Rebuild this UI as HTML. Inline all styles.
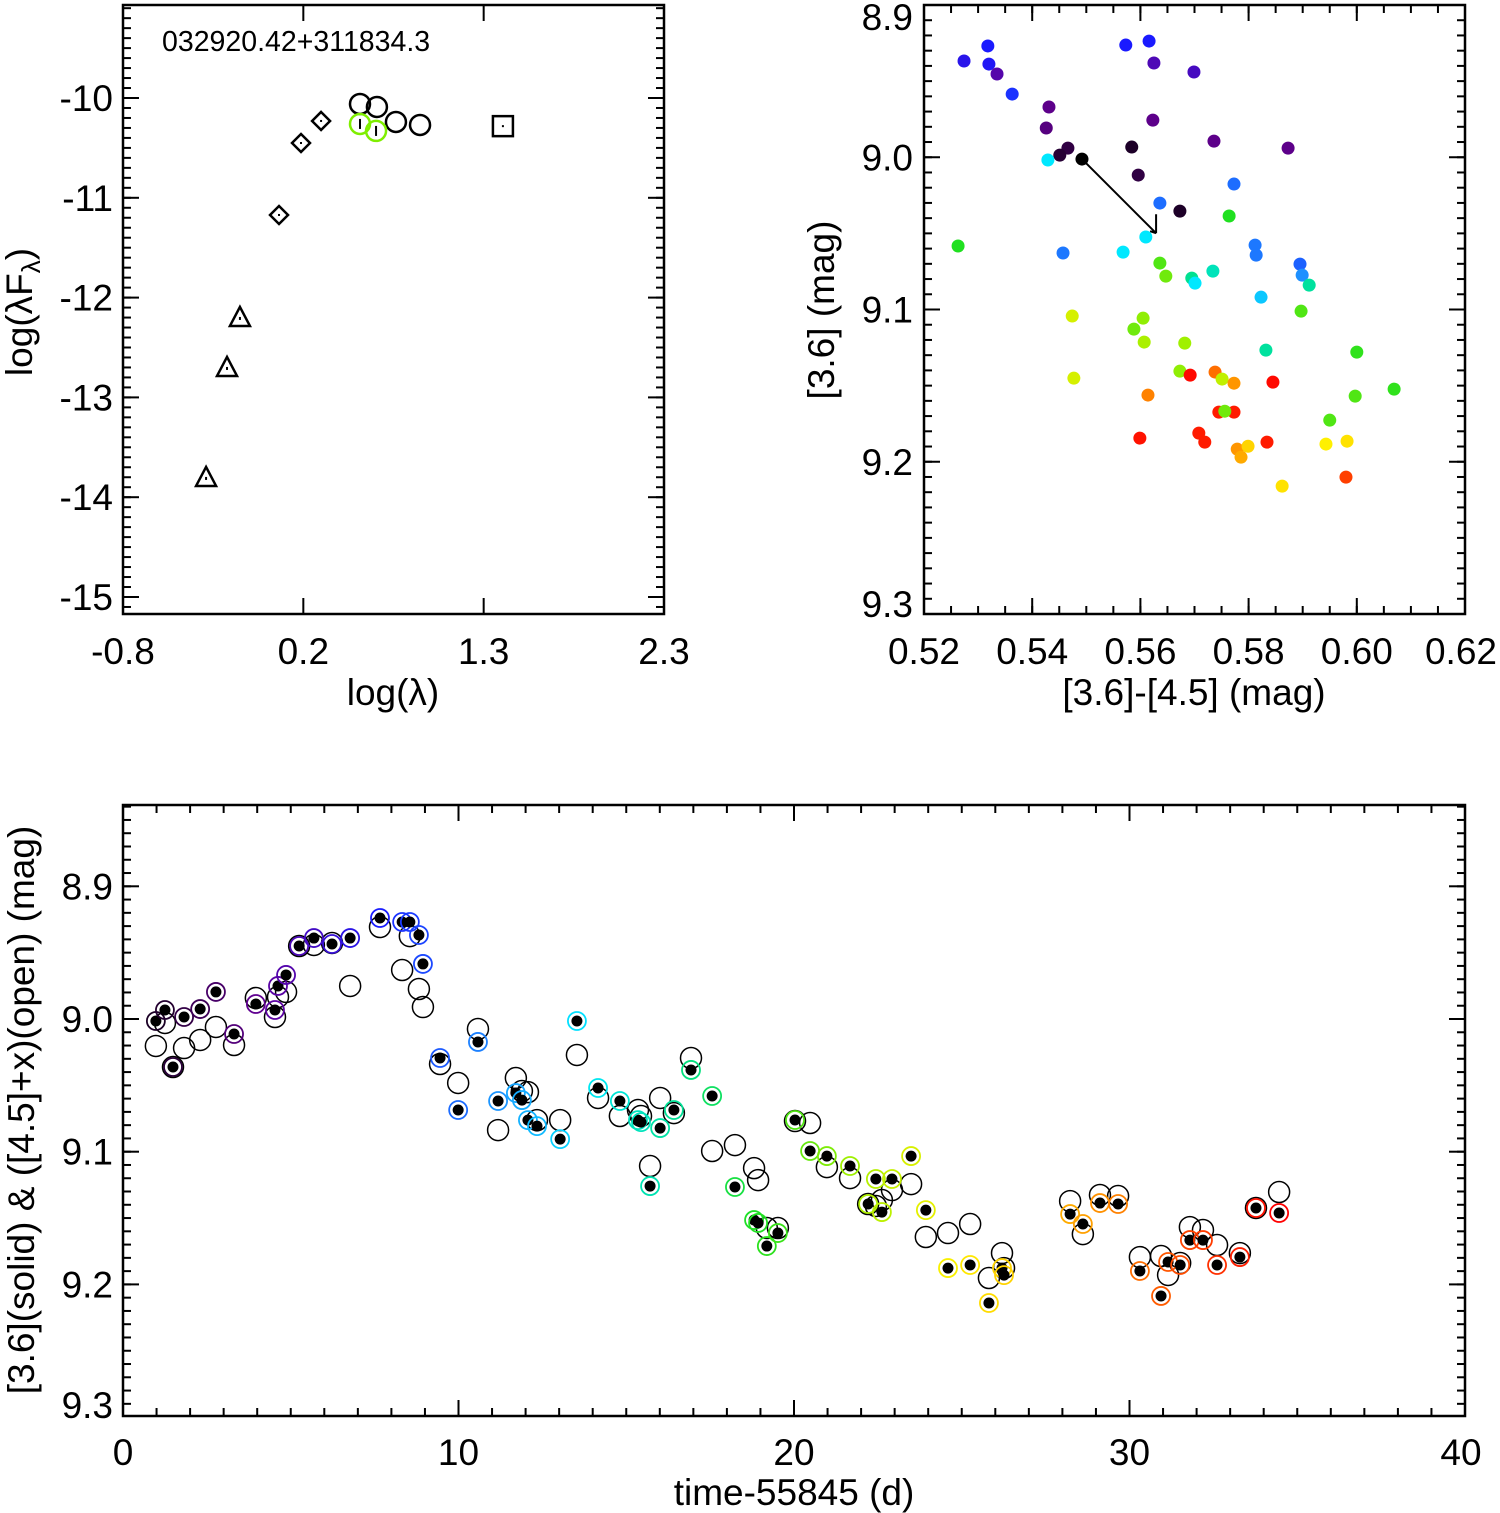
<!DOCTYPE html>
<html><head><meta charset="utf-8">
<style>
html,body{margin:0;padding:0;background:#fff;}
svg{display:block;font-family:"Liberation Sans",Arial,sans-serif;}
</style></head>
<body>
<svg id="fig" width="1500" height="1513" viewBox="0 0 1500 1513" xmlns="http://www.w3.org/2000/svg"></svg>
<script>
// ---------- Panel 1: SED ----------
const sedTriX = [-0.324, -0.204, -0.130];
const sedTriY = [-13.807, -12.705, -12.204];
const sedDiaX = [0.094, 0.220, 0.335];
const sedDiaY = [-11.172, -10.451, -10.230];
const sedCircX = [0.558, 0.655, 0.764, 0.902];
const sedCircY = [-10.060, -10.090, -10.240, -10.270];
const sedGreenX = [0.558, 0.650];
const sedGreenY = [-10.260, -10.330];
const sedSqX = [1.377];
const sedSqY = [-10.282];
const sedXTicks = [-0.8, 0.2333, 1.2667, 2.3];
const sedXLabels = ["-0.8", "0.2", "1.3", "2.3"];
const sedYTicks = [-10, -11, -12, -13, -14, -15];
const sedYLabels = ["-10", "-11", "-12", "-13", "-14", "-15"];

// ---------- Panel 2: colour-magnitude ----------
const cmdColor = [0.5274,0.5318,0.5320,0.5335,0.5363,0.5573,0.5616,0.5625,0.5699,0.5431,0.5426,0.5623,0.5736,0.5873,0.5466,0.5451,0.5584,0.5492,0.5596,0.5673,0.5429,0.5263,0.5636,0.5773,0.5610,0.5457,0.5568,0.5636,0.5647,0.5695,0.5701,0.5734,0.5764,0.5812,0.5814,0.5895,0.5899,0.5912,0.5823,0.5897,0.5832,0.6000,0.6069,0.5997,0.5950,0.5605,0.5588,0.5607,0.5474,0.5477,0.5682,0.5673,0.5692,0.5738,0.5751,0.5773,0.5845,0.5614,0.5745,0.5773,0.5756,0.5599,0.5708,0.5719,0.5834,0.5779,0.5799,0.5786,0.5862,0.5943,0.5982,0.5980];
const cmdMag = [8.9368,8.9269,8.9388,8.9453,8.9585,8.9263,8.9237,8.9381,8.9440,8.9670,8.9808,8.9756,8.9894,8.9940,8.9940,8.9986,8.9933,9.0012,9.0117,9.0354,9.0018,9.0583,9.0301,9.0176,9.0524,9.0629,9.0623,9.0695,9.0781,9.0794,9.0827,9.0748,9.0386,9.0577,9.0643,9.0702,9.0774,9.0840,9.0919,9.1011,9.1267,9.1280,9.1523,9.1569,9.1727,9.1057,9.1129,9.1214,9.1043,9.1451,9.1221,9.1405,9.1431,9.1411,9.1457,9.1484,9.1477,9.1562,9.1674,9.1674,9.1668,9.1845,9.1812,9.1871,9.1871,9.1917,9.1898,9.1970,9.2160,9.1884,9.1865,9.2101];
const cmdPhase = [0.20,0.22,0.21,0.14,0.24,0.22,0.22,0.15,0.16,0.11,0.10,0.11,0.11,0.11,0.05,0.04,0.03,0.0,0.05,0.03,0.40,0.55,0.29,0.29,0.40,0.30,0.40,0.58,0.60,0.48,0.40,0.45,0.55,0.30,0.30,0.28,0.32,0.47,0.37,0.58,0.47,0.56,0.56,0.58,0.58,0.62,0.60,0.64,0.68,0.68,0.63,0.62,0.99,0.88,0.66,0.84,0.99,0.86,0.97,0.97,0.60,0.98,0.97,0.97,0.97,0.84,0.76,0.82,0.74,0.72,0.74,0.93];
const cmdArrowFrom = [0.5492, 9.0012];
const cmdArrowTo = [0.5629, 9.0499];
const cmdXTicks = [0.52,0.54,0.56,0.58,0.60,0.62];
const cmdXLabels = ["0.52","0.54","0.56","0.58","0.60","0.62"];
const cmdYTicks = [8.9,9.0,9.1,9.2,9.3];
const cmdYLabels = ["8.9","9.0","9.1","9.2","9.3"];

// ---------- Panel 3: light curve ----------
const lcTime = [0.98,1.25,1.49,1.82,2.30,2.77,3.31,3.96,4.53,4.62,4.86,5.25,5.69,6.23,6.77,7.66,8.32,8.55,8.82,8.94,9.45,9.99,10.58,11.18,11.71,11.89,12.07,12.34,13.03,13.53,14.16,14.81,15.35,15.44,15.71,16.01,16.42,16.93,17.56,18.24,18.81,18.93,19.19,19.52,20.03,20.48,20.98,21.67,22.21,22.44,22.62,22.92,23.49,23.93,24.59,25.25,25.81,26.20,26.26,28.23,28.61,29.12,29.66,30.31,30.94,31.15,31.51,31.80,32.19,32.61,33.29,33.77,34.46];
const lcMag36 = [9.0015,8.9932,9.0362,8.9985,8.9925,8.9796,9.0113,8.9887,8.9932,8.9751,8.9668,8.9450,8.9390,8.9435,8.9390,8.9239,8.9269,8.9269,8.9367,8.9585,9.0294,9.0686,9.0173,9.0618,9.0558,9.0611,9.0762,9.0807,9.0905,9.0015,9.0520,9.0618,9.0762,9.0777,9.1259,9.0822,9.0686,9.0384,9.0580,9.1266,9.1515,9.1537,9.1711,9.1613,9.0761,9.0995,9.1033,9.1108,9.1394,9.1206,9.1455,9.1206,9.1033,9.1440,9.1877,9.1854,9.2140,9.1877,9.1930,9.1470,9.1545,9.1387,9.1394,9.1899,9.2087,9.1831,9.1854,9.1666,9.1666,9.1854,9.1794,9.1424,9.1462];
const lcMag45x = [9.0203,9.0030,9.0362,9.0219,9.0158,9.0060,9.0196,8.9842,8.9985,8.9834,8.9796,8.9450,8.9442,8.9427,8.9751,8.9307,8.9631,8.9375,8.9774,8.9910,9.0339,9.0482,9.0075,9.0837,9.0445,9.0543,9.0551,9.0762,9.0762,9.0271,9.0595,9.0731,9.0686,9.0731,9.1108,9.0595,9.0709,9.0294,9.0995,9.0950,9.1124,9.1214,9.1575,9.1575,9.0769,9.0784,9.1116,9.1199,9.1394,9.1409,9.1364,9.1289,9.1244,9.1643,9.1613,9.1545,9.1952,9.1764,9.1877,9.1372,9.1621,9.1326,9.1334,9.1794,9.1786,9.1929,9.1839,9.1568,9.1590,9.1703,9.1764,9.1424,9.1304];
const lcXTicks = [0,10,20,30,40];
const lcXLabels = ["0","10","20","30","40"];
const lcYTicks = [8.9,9.0,9.1,9.2,9.3];
const lcYLabels = ["8.9","9.0","9.1","9.2","9.3"];

const NS = "http://www.w3.org/2000/svg";
const svg = document.getElementById("fig");
function mk(tag, attrs, parent) {
  const e = document.createElementNS(NS, tag);
  for (const k in attrs) e.setAttribute(k, attrs[k]);
  (parent || svg).appendChild(e);
  return e;
}
function scale(d0, d1, p0, p1) { return v => p0 + (v - d0) * (p1 - p0) / (d1 - d0); }

const stops = [[0,[0,0,0]],[0.06,[58,0,80]],[0.12,[100,0,150]],[0.22,[26,26,255]],[0.32,[30,144,255]],[0.40,[0,232,255]],[0.48,[0,224,144]],[0.55,[32,224,32]],[0.63,[160,240,0]],[0.72,[255,240,0]],[0.82,[255,170,0]],[0.90,[255,90,0]],[1,[255,0,0]]];
function rainbow(f) {
  f = Math.max(0, Math.min(1, f));
  for (let i = 1; i < stops.length; i++) {
    if (f <= stops[i][0]) {
      const a = stops[i-1], b = stops[i], u = (f - a[0]) / (b[0] - a[0]);
      const c = a[1].map((v, j) => Math.round(v + (b[1][j] - v) * u));
      return "rgb(" + c.join(",") + ")";
    }
  }
  return "rgb(255,0,0)";
}

const FS = 37;
function frame(box, name) {
  const r = mk("rect", {x: box.l, y: box.t, width: box.r - box.l, height: box.b - box.t, fill: "none", stroke: "#000", "stroke-width": 2.5});
  
  
}
function ticksX(box, sx, vals, len) {
  const g = mk("g", {stroke: "#000", "stroke-width": 2});
  
  
  vals.forEach(v => {
    const x = sx(v);
    if (x < box.l + 1 || x > box.r - 1) return;
    mk("line", {x1: x, x2: x, y1: box.b, y2: box.b - len}, g);
    mk("line", {x1: x, x2: x, y1: box.t, y2: box.t + len}, g);
  });
}
function ticksY(box, sy, vals, len) {
  const g = mk("g", {stroke: "#000", "stroke-width": 2});
  
  
  vals.forEach(v => {
    const y = sy(v);
    if (y < box.t + 1 || y > box.b - 1) return;
    mk("line", {x1: box.l, x2: box.l + len, y1: y, y2: y}, g);
    mk("line", {x1: box.r, x2: box.r - len, y1: y, y2: y}, g);
  });
}
function range(a, b, s) { const o = []; for (let v = a; v <= b + s * 1e-6; v += s) o.push(+v.toFixed(6)); return o; }
function label(x, y, txt, anchor, size, name) {
  const t = mk("text", {x: x, y: y, "text-anchor": anchor, "font-size": size, fill: "#000"});
  t.textContent = txt;
  
  
  return t;
}

// ===== Panel 1 =====
const b1 = {l: 123, r: 664, t: 5, b: 614};
const x1 = scale(-0.8, 2.3, b1.l, b1.r);
const y1 = scale(-10, -15, 98, 597);
ticksX(b1, x1, sedXTicks, 16);
ticksY(b1, y1, range(-15.1, -9.1, 0.1), 8);
ticksY(b1, y1, sedYTicks, 16);
frame(b1, 'sed-plot');
sedXTicks.forEach((v, i) => label(x1(v), 664, sedXLabels[i], "middle", FS, 'sed-x-tick-label'));
sedYTicks.forEach((v, i) => label(113, y1(v) + 13, sedYLabels[i], "end", FS, 'sed-y-tick-label'));
label(393, 705, "log(λ)", "middle", FS, 'sed-x-axis-title');
{
  const t = label(0, 0, "", "middle", FS, 'sed-y-axis-title');
  t.setAttribute("transform", "translate(32,312) rotate(-90)");
  t.innerHTML = 'log(λF<tspan font-size="26" dy="8">λ</tspan><tspan dy="-8">)</tspan>';
}
label(162, 51, "032920.42+311834.3", "start", 28.5, 'source-name-label');
sedTriX.forEach((v, i) => {
  const cx = x1(v), cy = y1(sedTriY[i]);
  const p = mk("polygon", {points: `${cx},${cy-11} ${cx-10},${cy+8} ${cx+10},${cy+8}`, fill: "none", stroke: "#000", "stroke-width": 2.5});
  
  
  mk("rect", {x: cx - 1, y: cy - 1, width: 2, height: 3, fill: "#000"});
});
sedDiaX.forEach((v, i) => {
  const cx = x1(v), cy = y1(sedDiaY[i]);
  const p = mk("polygon", {points: `${cx},${cy-9} ${cx+9},${cy} ${cx},${cy+9} ${cx-9},${cy}`, fill: "none", stroke: "#000", "stroke-width": 2.5});
  
  
  mk("rect", {x: cx - 1, y: cy - 1, width: 2, height: 2, fill: "#000"});
});
sedCircX.forEach((v, i) => {
  const c = mk("circle", {cx: x1(v), cy: y1(sedCircY[i]), r: 10, fill: "none", stroke: "#000", "stroke-width": 2.5});
  
  
});
sedGreenX.forEach((v, i) => {
  const cx = x1(v), cy = y1(sedGreenY[i]);
  const c = mk("circle", {cx: cx, cy: cy, r: 10, fill: "none", stroke: "#7fee00", "stroke-width": 2.5});
  
  
  mk("line", {x1: cx, x2: cx, y1: cy - 5, y2: cy + 5, stroke: "#000", "stroke-width": 2});
});
sedSqX.forEach((v, i) => {
  const cx = x1(v), cy = y1(sedSqY[i]);
  const r = mk("rect", {x: cx - 10, y: cy - 10, width: 20, height: 20, fill: "none", stroke: "#000", "stroke-width": 2.5});
  
  
  mk("rect", {x: cx - 1, y: cy - 1, width: 2, height: 2, fill: "#000"});
});

// ===== Panel 2 =====
const b2 = {l: 924, r: 1465, t: 5, b: 614};
const x2 = scale(0.52, 0.62, b2.l, b2.r);
const y2 = scale(8.9, 9.3, b2.t, b2.b);
ticksX(b2, x2, range(0.52, 0.62, 0.005), 8);
ticksX(b2, x2, cmdXTicks, 16);
ticksY(b2, y2, range(8.9, 9.3, 0.01), 8);
ticksY(b2, y2, cmdYTicks, 16);
frame(b2, 'cmd-plot');
cmdXTicks.forEach((v, i) => label(x2(v) - (i === 5 ? 4 : 0), 664, cmdXLabels[i], "middle", FS, 'cmd-x-tick-label'));
cmdYTicks.forEach((v, i) => {
  let y = y2(v) + 13;
  if (i === 0) y = 30; if (i === cmdYTicks.length - 1) y = 617;
  label(913, y, cmdYLabels[i], "end", FS, 'cmd-y-tick-label');
});
label(1194, 705, "[3.6]-[4.5] (mag)", "middle", FS, 'cmd-x-axis-title');
{
  const t = label(0, 0, "[3.6] (mag)", "middle", FS, 'cmd-y-axis-title');
  t.setAttribute("transform", "translate(834,310) rotate(-90)");
}
{
  const ax = x2(cmdArrowFrom[0]), ay = y2(cmdArrowFrom[1]);
  const bx = x2(cmdArrowTo[0]), by = y2(cmdArrowTo[1]);
  const a = mk("path", {d: `M${ax},${ay} L${bx},${by} M${bx},${by} L${bx},${by-19} M${bx},${by} L${bx-6},${by-2}`, stroke: "#000", "stroke-width": 2, fill: "none"});
  
  
}
cmdColor.forEach((v, i) => {
  const c = mk("circle", {cx: x2(v), cy: y2(cmdMag[i]), r: 6.5, fill: rainbow(cmdPhase[i])});
  
  
});

// ===== Panel 3 =====
const b3 = {l: 123, r: 1465, t: 805, b: 1416};
const x3 = scale(0, 40, b3.l, b3.r);
const y3 = scale(9.0, 9.1, 1019, 1151.7);
ticksX(b3, x3, range(0, 40, 1), 8);
ticksX(b3, x3, lcXTicks, 16);
ticksY(b3, y3, range(8.84, 9.3, 0.01), 8);
ticksY(b3, y3, lcYTicks, 16);
frame(b3, 'lightcurve-plot');
lcXTicks.forEach((v, i) => label(x3(v) - (i === 4 ? 4 : 0), 1465, lcXLabels[i], "middle", FS, 'lc-x-tick-label'));
lcYTicks.forEach((v, i) => {
  let y = y3(v) + 13;
  if (i === lcYTicks.length - 1) y = 1418;
  label(113, y, lcYLabels[i], "end", FS, 'lc-y-tick-label');
});
label(794, 1505, "time-55845 (d)", "middle", FS, 'lc-x-axis-title');
{
  const t = label(0, 0, "[3.6](solid) & ([4.5]+x)(open) (mag)", "middle", FS, 'lc-y-axis-title');
  t.setAttribute("transform", "translate(34,1110) rotate(-90)");
}
const tMax = lcTime[lcTime.length - 1];
lcTime.forEach((t, i) => {
  const c = mk("circle", {cx: x3(t), cy: y3(lcMag45x[i]), r: 10.5, fill: "none", stroke: "#000", "stroke-width": 1.5});
  
  
});
lcTime.forEach((t, i) => {
  const cx = x3(t), cy = y3(lcMag36[i]);
  const ring = mk("circle", {cx: cx, cy: cy, r: 9, fill: "none", stroke: rainbow(t / tMax), "stroke-width": 1.8});
  
  
  const d = mk("circle", {cx: cx, cy: cy, r: 5.5, fill: "#000"});
  
  
});
</script>
</body></html>
